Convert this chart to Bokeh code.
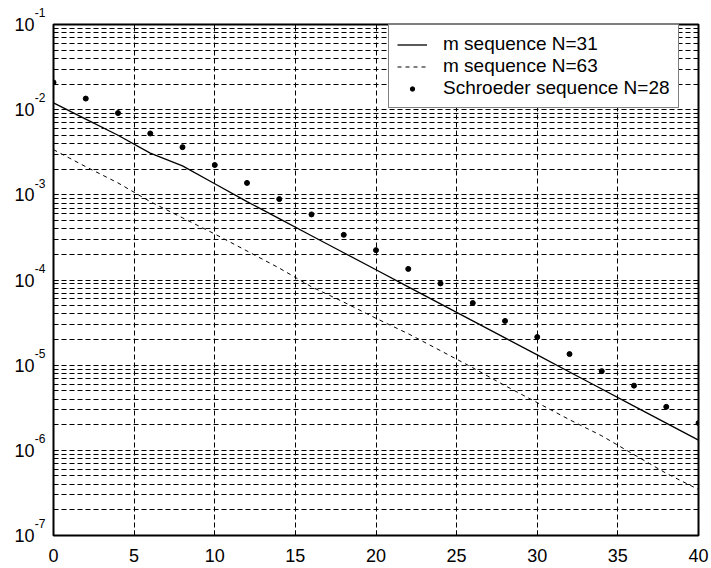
from bokeh.plotting import figure
from bokeh.models import (FixedTicker, Legend, LegendItem, LinearAxis,
                          LogAxis, CustomJSTickFormatter)
from bokeh.embed import file_html
from bokeh.resources import INLINE

# ---- data -------------------------------------------------------------
x_line = [0, 2, 4, 6, 8, 10, 12, 14, 16, 18, 20,
          22, 24, 26, 28, 30, 32, 34, 36, 38, 40]
m_seq_31 = [1.20e-2, 7.76e-3, 5.01e-3, 3.09e-3, 2.19e-3, 1.35e-3, 8.32e-4,
            5.25e-4, 3.31e-4, 2.09e-4, 1.32e-4, 8.32e-5, 5.25e-5, 3.31e-5,
            2.09e-5, 1.32e-5, 8.32e-6, 5.25e-6, 3.31e-6, 2.09e-6, 1.32e-6]
m_seq_63 = [3.39e-3, 2.14e-3, 1.38e-3, 8.32e-4, 5.37e-4, 3.47e-4, 2.19e-4,
            1.38e-4, 8.32e-5, 5.50e-5, 3.55e-5, 2.34e-5, 1.48e-5, 9.33e-6,
            5.75e-6, 3.63e-6, 2.29e-6, 1.48e-6, 8.91e-7, 5.37e-7, 3.47e-7]
x_dots = [0, 2, 4, 6, 8, 10, 12, 14, 16, 18, 20,
          22, 24, 26, 28, 30, 32, 34, 36, 38, 40]
schroeder_28 = [2.09e-2, 1.35e-2, 9.12e-3, 5.25e-3, 3.63e-3, 2.24e-3, 1.38e-3,
                8.91e-4, 5.89e-4, 3.39e-4, 2.24e-4, 1.35e-4, 9.12e-5, 5.37e-5,
                3.31e-5, 2.14e-5, 1.35e-5, 8.51e-6, 5.75e-6, 3.24e-6, 2.09e-6]

x_ticks = [0, 5, 10, 15, 20, 25, 30, 35, 40]
y_exponents = [-7, -6, -5, -4, -3, -2, -1]

legend_labels = ["m sequence N=31", "m sequence N=63",
                 "Schroeder sequence N=28"]

# ---- styling ------------------------------------------------------------
FONT = "Liberation Sans"
GRID_DASH = "5 3"

decades = [10.0 ** k for k in y_exponents]
minor_vals = [m * 10.0 ** k for k in y_exponents[:-1] for m in range(2, 10)]

p = figure(width=711, height=568, x_range=(0, 40), y_range=(1e-7, 1e-1),
           y_axis_type="log", output_backend="svg", toolbar_location=None,
           min_border_left=53, min_border_right=13,
           min_border_top=24, min_border_bottom=33)
p.background_fill_color = "white"
p.border_fill_color = "white"
p.outline_line_color = "black"
p.outline_line_width = 2

xt = FixedTicker(ticks=x_ticks)
yt = FixedTicker(ticks=decades, minor_ticks=minor_vals)

p.xaxis.ticker = xt
p.yaxis.ticker = yt
p.xgrid.ticker = xt
p.ygrid.ticker = yt

for g in (p.xgrid, p.ygrid):
    g.grid_line_color = "black"
    g.grid_line_width = 1
    g.grid_line_dash = GRID_DASH
    g.grid_line_alpha = 1.0
p.ygrid.minor_grid_line_color = "black"
p.ygrid.minor_grid_line_dash = GRID_DASH
p.ygrid.minor_grid_line_alpha = 1.0

blank = CustomJSTickFormatter(code="return ''")

ax = p.xaxis[0]
ax.axis_line_color = None
ax.major_tick_in = 5
ax.major_tick_out = 0
ax.minor_tick_line_color = None
ax.major_label_text_font = FONT
ax.major_label_text_font_size = "18px"
ax.major_label_text_color = "black"
ax.major_label_standoff = 13

# inner left axis: decade exponents, raised above each tick
# (an empty second line lifts the exponent over the tick position)
ay = p.yaxis[0]
ay.axis_line_color = None
ay.major_tick_in = 5
ay.major_tick_out = 0
ay.minor_tick_in = 3
ay.minor_tick_out = 0
ay.formatter = CustomJSTickFormatter(
    code="return Math.round(Math.log10(tick)).toString() + '\\n '")
ay.major_label_text_font = FONT
ay.major_label_text_font_size = "12px"
ay.major_label_text_line_height = 1.6
ay.major_label_text_color = "black"
ay.major_label_text_baseline = "middle"
ay.major_label_standoff = 8

# outer left axis: the base "10" of each decade label
base = LogAxis(ticker=yt, axis_line_color=None, major_tick_line_color=None,
               minor_tick_line_color=None, major_tick_in=0, major_tick_out=0,
               formatter=CustomJSTickFormatter(code="return '10'"),
               major_label_standoff=-7, major_label_text_font=FONT,
               major_label_text_font_size="18px",
               major_label_text_color="black")
p.add_layout(base, "left")

# frame ticks on the top and right sides
top = LinearAxis(ticker=xt, axis_line_color=None, major_tick_in=5,
                 major_tick_out=0, minor_tick_line_color=None,
                 formatter=blank, major_label_text_font_size="0px")
right = LogAxis(ticker=yt, axis_line_color=None, major_tick_in=5,
                major_tick_out=0, minor_tick_in=3, minor_tick_out=0,
                formatter=blank, major_label_text_font_size="0px")
p.add_layout(top, "above")
p.add_layout(right, "right")

r31 = p.line(x_line, m_seq_31, line_color="black", line_width=1.3)
r63 = p.line(x_line, m_seq_63, line_color="black", line_width=1,
             line_dash="4 4")
rs = p.scatter(x_dots, schroeder_28, size=5, fill_color="black",
               line_color="black")

legend = Legend(items=[LegendItem(label=legend_labels[0], renderers=[r31]),
                       LegendItem(label=legend_labels[1], renderers=[r63]),
                       LegendItem(label=legend_labels[2], renderers=[rs])],
                location=(335, 427))
legend.border_line_color = "black"
legend.border_line_width = 1
legend.background_fill_color = "white"
legend.background_fill_alpha = 1
legend.label_text_font = FONT
legend.label_text_font_size = "19px"
legend.label_text_color = "black"
legend.glyph_width = 30
legend.glyph_height = 11
legend.label_height = 19
legend.label_standoff = 16
legend.spacing = -4
legend.padding = 8
legend.margin = 0
p.add_layout(legend, "center")

open("out.html", "w").write(file_html(p, INLINE))
